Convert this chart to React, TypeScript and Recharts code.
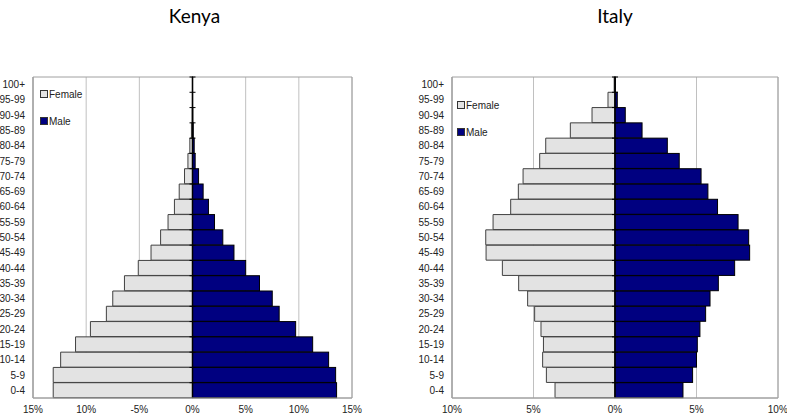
import React from 'react';
import { BarChart, Bar, XAxis, YAxis, CartesianGrid, ReferenceLine, ReferenceArea, Legend } from 'recharts';

const ages = ['0-4', '5-9', '10-14', '15-19', '20-24', '25-29', '30-34', '35-39', '40-44', '45-49', '50-54', '55-59', '60-64', '65-69', '70-74', '75-79', '80-84', '85-89', '90-94', '95-99', '100+'];

const kenyaFemale = [13.1, 13.1, 12.4, 11.0, 9.6, 8.1, 7.5, 6.4, 5.1, 3.9, 3.0, 2.3, 1.7, 1.25, 0.75, 0.43, 0.25, 0.1, 0.03, 0.01, 0.005];
const kenyaMale = [13.55, 13.46, 12.8, 11.3, 9.7, 8.15, 7.5, 6.3, 5.0, 3.9, 2.85, 2.07, 1.5, 1.0, 0.57, 0.25, 0.16, 0.07, 0.03, 0.01, 0.005];

const italyFemale = [3.68, 4.21, 4.44, 4.39, 4.54, 4.93, 5.36, 5.91, 6.91, 7.91, 7.93, 7.48, 6.4, 5.93, 5.64, 4.62, 4.25, 2.74, 1.41, 0.43, 0.05];
const italyMale = [4.17, 4.76, 5.0, 5.05, 5.21, 5.56, 5.83, 6.34, 7.34, 8.26, 8.2, 7.55, 6.29, 5.7, 5.28, 3.94, 3.21, 1.66, 0.63, 0.14, 0.02];

const kenyaTickValues = [-15, -10, -5, 0, 5, 10, 15];
const kenyaTickLabels = ['15%', '10%', '-5%', '0%', '5%', '10%', '15%'];
const italyTickValues = [-10, -5, 0, 5, 10];
const italyTickLabels = ['10%', '5%', '0%', '5%', '10%'];

const FONT = '"Liberation Sans", Arial, sans-serif';

function buildRows(f: number[], m: number[]) {
  return ages.map((age, i) => ({ age, female: -f[i], male: m[i] }));
}

const MaleShape = (props: any) => {
  let { x, y, width, height, fill } = props;
  if (width < 0) { x = x + width; width = -width; }
  return (
    <g>
      <rect x={x} y={y} width={width} height={height} fill={fill} stroke="#000" strokeWidth={1} />
      <line x1={x - 3} x2={x + 3} y1={y} y2={y} stroke="#000" strokeWidth={1} />
    </g>
  );
};

const LegendContent = (props: any) => {
  const payload = props.payload || [];
  return (
    <div style={{ fontFamily: FONT, fontSize: 10, color: '#222' }}>
      {payload.map((p: any, i: number) => (
        <div key={i} style={{ display: 'flex', alignItems: 'center', height: 12, marginBottom: i === 0 ? 15 : 0 }}>
          <span style={{ display: 'inline-block', width: 6, height: 6, background: p.color, border: '1px solid #333', marginRight: 1 }} />
          <span>{p.value}</span>
        </div>
      ))}
    </div>
  );
};

type PyramidProps = {
  rows: any[];
  width: number;
  yWidth: number;
  rightMargin: number;
  domain: [number, number];
  ticks: number[];
  labels: string[];
  legendLeft: number;
  legendTop: number;
};

const Pyramid = ({ rows, width, yWidth, rightMargin, domain, ticks, labels, legendLeft, legendTop }: PyramidProps) => (
  <BarChart
    width={width}
    height={418}
    data={rows}
    layout="vertical"
    stackOffset="sign"
    barCategoryGap={0}
    margin={{ top: 77, right: rightMargin, bottom: 0, left: 0 }}
  >
    <CartesianGrid horizontal={false} vertical={true} stroke="#c0c0c0" />
    <XAxis
      type="number"
      domain={domain}
      ticks={ticks}
      allowDataOverflow
      height={20}
      tickLine={false}
      axisLine={{ stroke: '#a0a0a0' }}
      tickFormatter={(v: number) => labels[ticks.indexOf(v)]}
      tick={{ fill: '#222', fontSize: 10, fontFamily: FONT }}
    />
    <YAxis
      type="category"
      dataKey="age"
      reversed
      interval={0}
      width={yWidth}
      tickLine={false}
      axisLine={{ stroke: '#a0a0a0' }}
      tick={{ fill: '#222', fontSize: 10, fontFamily: FONT }}
    />
    <ReferenceArea x1={domain[0]} x2={domain[1]} fill="none" stroke="#a0a0a0" strokeWidth={1} ifOverflow="visible" />
    <Bar dataKey="female" name="Female" stackId="s" fill="#e3e3e3" stroke="#404040" strokeWidth={1} isAnimationActive={false} />
    <Bar dataKey="male" name="Male" stackId="s" fill="#000080" shape={MaleShape} isAnimationActive={false} />
    <ReferenceLine x={0} stroke="#000" strokeWidth={1.5} />
    <Legend
      layout="vertical"
      align="center"
      verticalAlign="middle"
      content={LegendContent}
      wrapperStyle={{ left: legendLeft, top: legendTop, width: 'auto' }}
    />
  </BarChart>
);

export default function App() {
  return (
    <div style={{ position: 'absolute', left: 0, top: 0, width: 787, height: 418, background: '#fff', overflow: 'hidden' }}>
      <div style={{ position: 'absolute', left: 0, top: 4, width: 389, textAlign: 'center', fontFamily: 'Lato, sans-serif', fontSize: 19, lineHeight: '23px', color: '#000' }}>Kenya</div>
      <div style={{ position: 'absolute', left: 430, top: 4, width: 370, textAlign: 'center', fontFamily: 'Lato, sans-serif', fontSize: 19, lineHeight: '23px', color: '#000' }}>Italy</div>
      <div style={{ position: 'absolute', left: 0, top: 0 }}>
        <Pyramid
          rows={buildRows(kenyaFemale, kenyaMale)}
          width={400}
          yWidth={33}
          rightMargin={48}
          domain={[-15, 15]}
          ticks={kenyaTickValues}
          labels={kenyaTickLabels}
          legendLeft={40}
          legendTop={88}
        />
      </div>
      <div style={{ position: 'absolute', left: 400, top: 0 }}>
        <Pyramid
          rows={buildRows(italyFemale, italyMale)}
          width={387}
          yWidth={52}
          rightMargin={9}
          domain={[-10, 10]}
          ticks={italyTickValues}
          labels={italyTickLabels}
          legendLeft={57}
          legendTop={99}
        />
      </div>
    </div>
  );
}
